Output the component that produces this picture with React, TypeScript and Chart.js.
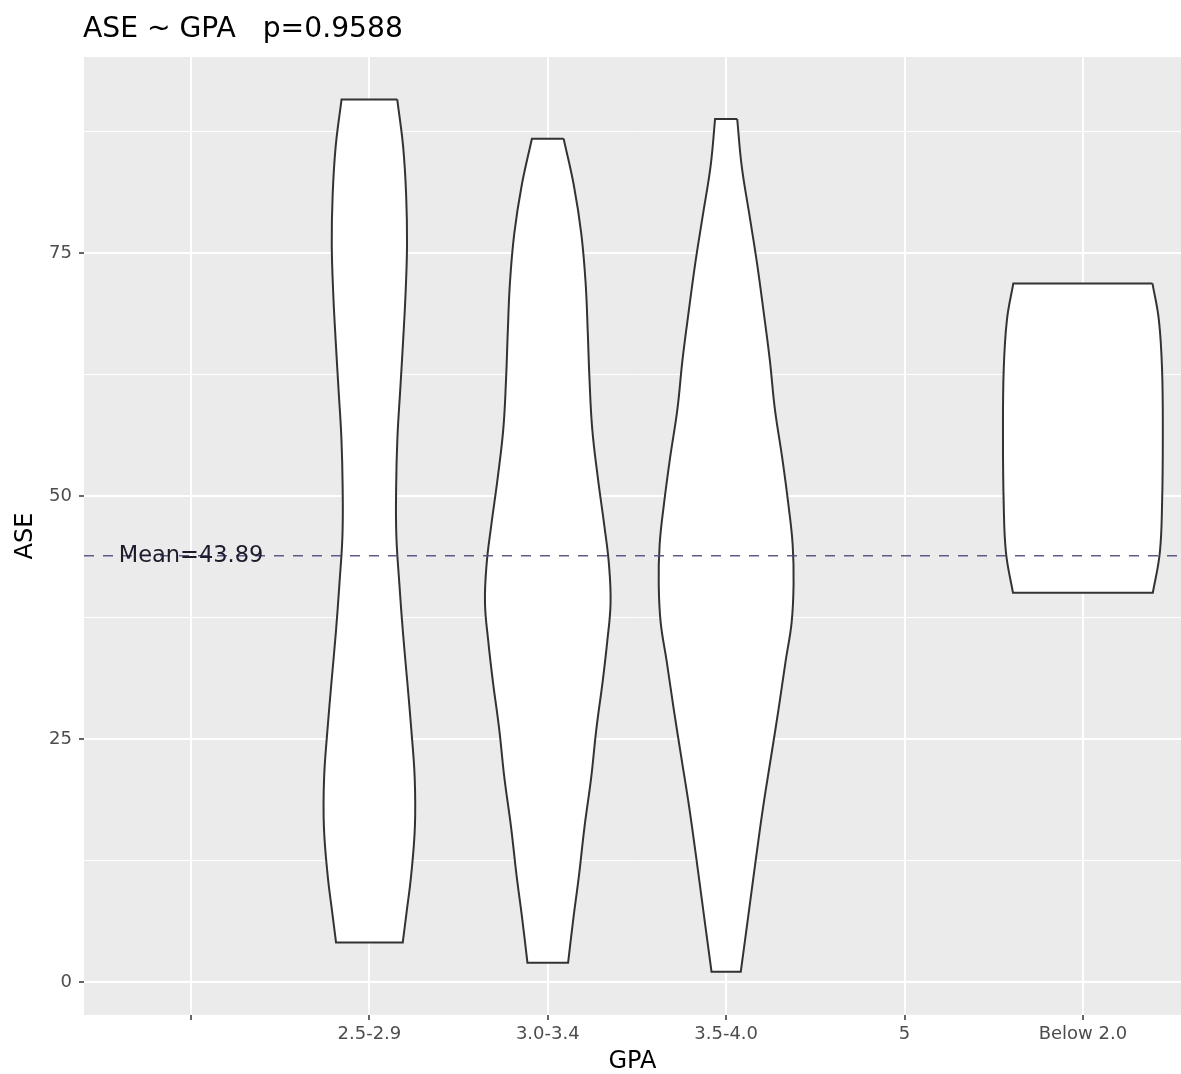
import React, { useEffect, useRef } from "react";
import { Chart, registerables } from "chart.js";

Chart.register(...registerables);

// ---- data ----
const categories = ["", "2.5-2.9", "3.0-3.4", "3.5-4.0", "5", "Below 2.0"];
const yMajorTicks = [0, 25, 50, 75];
const yMinorTicks = [12.5, 37.5, 62.5, 87.5];
const meanASE = 43.89;
const titleText = "ASE ~ GPA   p=0.9588";
const xTitle = "GPA";
const yTitle = "ASE";

// violin outlines: ASE levels (top -> bottom) and half-widths (category units)
const v1Category = 1;
const v1Levels = [90.84, 86, 81, 76, 71, 66, 61, 56, 51, 46, 41, 36, 31, 26, 21, 16, 11, 7, 4.1];
const v1Widths = [0.156, 0.189, 0.206, 0.211, 0.203, 0.189, 0.173, 0.157, 0.15, 0.151, 0.168, 0.188, 0.212, 0.235, 0.254, 0.255, 0.234, 0.207, 0.187];

const v2Category = 2;
const v2Levels = [86.79, 82, 77, 72, 67, 62, 57, 52, 47, 43, 39, 35, 31, 26, 21, 16, 11, 6.5, 2.02];
const v2Widths = [0.089, 0.146, 0.188, 0.212, 0.224, 0.234, 0.249, 0.28, 0.317, 0.343, 0.352, 0.333, 0.308, 0.272, 0.243, 0.206, 0.175, 0.143, 0.114];

const v3Category = 3;
const v3Levels = [88.82, 84, 79, 74, 69, 64, 59, 54, 49, 45, 41, 37, 33, 28, 23, 18, 13, 7.5, 1.09];
const v3Widths = [0.062, 0.087, 0.13, 0.173, 0.21, 0.245, 0.273, 0.314, 0.35, 0.373, 0.378, 0.367, 0.333, 0.293, 0.25, 0.207, 0.169, 0.129, 0.082];

const v4Category = 5;
const v4Levels = [71.91, 68.14, 63.0, 56.1, 49.31, 44.17, 40.08];
const v4Widths = [0.39, 0.426, 0.444, 0.448, 0.444, 0.431, 0.392];

const FONT = '"DejaVu Sans", "Liberation Sans", Arial, sans-serif';

function violinPath(cat: number, levels: number[], widths: number[]) {
  const right = levels.map((y, i) => ({ x: cat + widths[i], y }));
  const left = levels.map((y, i) => ({ x: cat - widths[i], y })).reverse();
  const dup = (a: { x: number; y: number }[]) => [a[0], ...a, a[a.length - 1]];
  return [...dup(right), ...dup(left), right[0]];
}

const X_MIN = -0.6;
const X_MAX = 5.55;

export default function App() {
  const canvasRef = useRef<HTMLCanvasElement | null>(null);

  useEffect(() => {
    const canvas = canvasRef.current;
    if (!canvas) return;

    const violins = [
      violinPath(v1Category, v1Levels, v1Widths),
      violinPath(v2Category, v2Levels, v2Widths),
      violinPath(v3Category, v3Levels, v3Widths),
      violinPath(v4Category, v4Levels, v4Widths),
    ];

    const panelBg = {
      id: "panelBg",
      beforeDraw(chart: any) {
        const { ctx, chartArea } = chart;
        ctx.save();
        ctx.fillStyle = "#EBEBEB";
        ctx.fillRect(chartArea.left, chartArea.top, chartArea.right - chartArea.left, chartArea.bottom - chartArea.top);
        ctx.restore();
      },
    };

    const annotations = {
      id: "annotations",
      afterDatasetsDraw(chart: any) {
        const { ctx, scales } = chart;
        ctx.save();
        ctx.font = `22.5px ${FONT}`;
        ctx.fillStyle = "#1c1c2c";
        ctx.textAlign = "center";
        ctx.textBaseline = "middle";
        ctx.fillText(`Mean=${meanASE}`, scales.x.getPixelForValue(0), scales.y.getPixelForValue(meanASE));
        ctx.restore();
      },
      afterDraw(chart: any) {
        const { ctx, chartArea } = chart;
        ctx.save();
        ctx.font = `28.2px ${FONT}`;
        ctx.fillStyle = "#000000";
        ctx.textAlign = "left";
        ctx.textBaseline = "alphabetic";
        ctx.fillText(titleText, chartArea.left - 1, 37);
        ctx.restore();
      },
    };

    const chart = new Chart(canvas, {
      type: "line",
      data: {
        datasets: [
          {
            label: "mean",
            data: [
              { x: X_MIN, y: meanASE },
              { x: X_MAX, y: meanASE },
            ],
            borderColor: "rgba(75,75,125,0.9)",
            borderWidth: 1.6,
            borderDash: [10, 9],
            fill: false,
            pointRadius: 0,
            tension: 0,
            order: 0,
          },
          ...violins.map((pts, i) => ({
            label: "violin" + i,
            data: pts,
            borderColor: "#333333",
            borderWidth: 2,
            backgroundColor: "#FFFFFF",
            fill: "shape" as any,
            pointRadius: 0,
            tension: 0.4,
            order: 1,
          })),
        ],
      },
      options: {
        responsive: false,
        animation: false,
        devicePixelRatio: 1,
        events: [],
        layout: { padding: { top: 57, left: 0, right: 0, bottom: 0 } },
        plugins: {
          legend: { display: false },
          tooltip: { enabled: false },
          title: { display: false },
        },
        elements: { point: { radius: 0, hoverRadius: 0 } },
        scales: {
          x: {
            type: "linear",
            min: X_MIN,
            max: X_MAX,
            afterBuildTicks: (s: any) => {
              s.ticks = categories.map((_, i) => ({ value: i }));
            },
            afterFit: (s: any) => {
              s.height = 59;
            },
            grid: {
              color: "#FFFFFF",
              lineWidth: 2,
              drawTicks: true,
              tickLength: 5,
              tickColor: "#333333",
              tickWidth: 1.5,
            },
            border: { display: false },
            ticks: {
              autoSkip: false,
              maxRotation: 0,
              minRotation: 0,
              padding: 4,
              color: "#4D4D4D",
              font: { family: FONT, size: 18 },
              callback: (v: any) => categories[Math.round(Number(v))] ?? "",
            },
            title: {
              display: true,
              text: xTitle,
              color: "#000000",
              font: { family: FONT, size: 24 },
              padding: { top: 0, bottom: -2 },
            },
          },
          y: {
            type: "linear",
            min: -3.36,
            max: 95.2,
            afterBuildTicks: (s: any) => {
              s.ticks = [...yMajorTicks, ...yMinorTicks].sort((a, b) => a - b).map((v) => ({ value: v }));
            },
            afterFit: (s: any) => {
              s.width = 84;
            },
            grid: {
              color: "#FFFFFF",
              lineWidth: (c: any) => (yMajorTicks.includes(c.tick?.value) ? 2 : 1),
              drawTicks: true,
              tickLength: 5,
              tickColor: (c: any) => (yMajorTicks.includes(c.tick?.value) ? "#333333" : "rgba(0,0,0,0)"),
              tickWidth: 1.5,
            },
            border: { display: false },
            ticks: {
              autoSkip: false,
              padding: 7,
              color: "#4D4D4D",
              font: { family: FONT, size: 18 },
              callback: (v: any) => (yMajorTicks.includes(Number(v)) ? String(v) : ""),
            },
            title: {
              display: true,
              text: yTitle,
              color: "#000000",
              font: { family: FONT, size: 24 },
              padding: { top: 11.6, bottom: 0 },
            },
          },
        },
      } as any,
      plugins: [panelBg, annotations],
    });

    return () => chart.destroy();
  }, []);

  return (
    <div style={{ position: "absolute", left: 0, top: 0, width: 1181, height: 1074, background: "#FFFFFF" }}>
      <canvas ref={canvasRef} width={1181} height={1074} style={{ display: "block", width: 1181, height: 1074 }} />
    </div>
  );
}
